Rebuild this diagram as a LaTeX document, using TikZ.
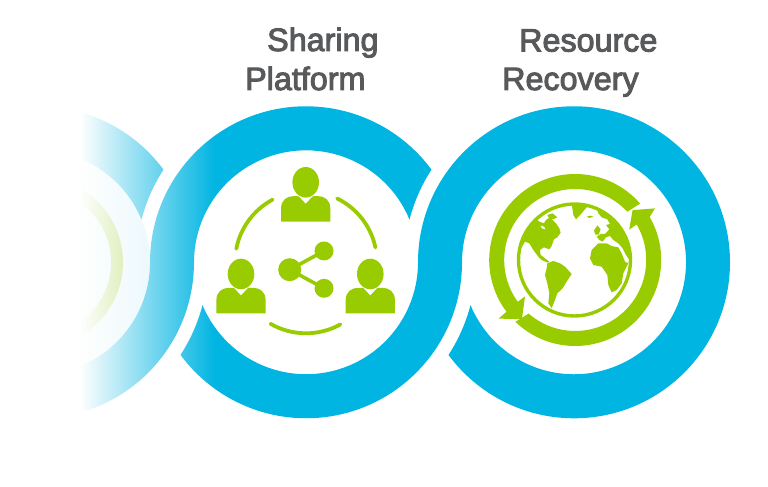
\documentclass[tikz,border=0pt]{standalone}
\usepackage{fontspec}
\usetikzlibrary{fadings}
\newfontfamily\lab[FakeBold=3]{Liberation Sans}
\definecolor{rblue}{HTML}{00B5E2}
\definecolor{rgreen}{HTML}{99CC00}
\definecolor{rgrey}{HTML}{58595B}
\definecolor{rpale}{HTML}{DDF4FB}
\definecolor{rpalegreen}{HTML}{9FD03A}
\tikzfading[name=fadeout,left color=transparent!0,right color=transparent!100]
\tikzset{
  x=1pt,y=1pt,
  lbl/.style={font=\lab\fontsize{32.3}{32.3}\selectfont,text=rgrey,inner sep=0pt,anchor=base west},
  iconarc/.style={draw=rgreen,line width=3.8pt,line cap=round},
  sharelink/.style={draw=rgreen,line width=3.6pt},
}
\newcommand{\person}[2]{%
  \begin{scope}[shift={(#1,#2)}]
    \fill[rgreen] (0,0) ellipse[x radius=13.3,y radius=15.3];
    \fill[rgreen] (-24.6,-39.4) -- (-24.6,-26) .. controls (-24.6,-18) and (-19,-13.8) .. (-12,-13.8)
      -- (-7,-14) -- (0,-21.5) -- (7,-14) -- (12,-13.8) .. controls (19,-13.8) and (24.6,-18) .. (24.6,-26)
      -- (24.6,-39.4) -- cycle;
  \end{scope}}
\begin{document}
\begin{tikzpicture}
\useasboundingbox (0,0) rectangle (768,487);
\def\cy{224.7}
\def\cA{38}\def\cB{306}\def\cC{574}
% left, faded ring
\fill[rpale] (\cA,\cy) circle[radius=112];
\fill[rpalegreen,even odd rule] (\cA,\cy) circle[radius=85] (\cA,\cy) circle[radius=73];
\fill[rblue] ({\cA+156*cos(100)},{\cy+156*sin(100)}) arc[start angle=100,end angle=36.44,radius=156]
  arc[start angle=146.96,end angle=165.42,radius=170]
  arc[start angle=22.47,end angle=100,radius=112] -- cycle;
% S piece: middle top + left bottom
\fill[rblue] (\cB-156,\cy) arc[start angle=180,end angle=36.44,radius=156]
  arc[start angle=146.96,end angle=165.42,radius=170]
  arc[start angle=22.47,end angle=180,radius=112]
  arc[start angle=0,end angle=-100,radius=156]
  -- ({\cA+112*cos(-100)},{\cy+112*sin(-100)})
  arc[start angle=-100,end angle=0,radius=112] -- cycle;
% S piece: right ring + middle bottom
\fill[rblue] (\cC-156,\cy) arc[start angle=180,end angle=-143.56,radius=156]
  arc[start angle=-33.04,end angle=-14.58,radius=170]
  arc[start angle=-157.53,end angle=180,radius=112]
  arc[start angle=0,end angle=-143.56,radius=156]
  arc[start angle=-33.04,end angle=-14.58,radius=170]
  arc[start angle=-157.53,end angle=0,radius=112] -- cycle;
% fade
\fill[white] (0,0) rectangle (81,487);
\fill[white,path fading=fadeout] (80,0) rectangle (215,487);
% people
\person{305.7}{304.7}
\person{241}{213}
\person{370.3}{213}
\draw[iconarc] (\cB,\cy) ++(169:71) arc[start angle=169,end angle=118,radius=71];
\draw[iconarc] (\cB,\cy) ++(64:71) arc[start angle=64,end angle=12,radius=71];
\draw[iconarc] (\cB,\cy) ++(-120:71) arc[start angle=-120,end angle=-61,radius=71];
\coordinate (hub) at (289.7,217.3);
\coordinate (ta) at (324,236);
\coordinate (tb) at (324,198.7);
\draw[sharelink] (hub) -- (ta) (hub) -- (tb);
\fill[rgreen] (hub) circle[radius=11.5] (ta) circle[radius=9.5] (tb) circle[radius=9.5];
% globe arrows
\begin{scope}[shift={(575.2,227)}]
\fill[rgreen] (41:86) arc[start angle=41,end angle=217,radius=86]
  -- (217.4:96.5) -- (228:79.7) -- (216:62) -- (216:71)
  arc[start angle=216,end angle=42.8,radius=71] -- cycle;
\fill[rgreen] (226:86) arc[start angle=226,end angle=390,radius=86]
  -- (392.9:95) -- (401:76) -- (389.4:62) -- (390:71)
  arc[start angle=390,end angle=229,radius=71] -- cycle;
\end{scope}
% globe
\draw[rgreen,line width=3.4pt] (574.5,227) circle[radius=56];
\begin{scope}[shift={(470,327)},x=0.3333pt,y=-0.3333pt]
\clip (313,300) circle[radius=168];
\fill[rgreen] (208,185) -- (222,190) -- (228,180) -- (240,172) -- (248,180) -- (258,190) -- (268,205) -- (272,218) -- (262,232) -- (252,238) -- (245,258) -- (238,268) -- (222,262) -- (210,270) -- (212,285) -- (225,295) -- (238,305) -- (232,308) -- (215,300) -- (205,290) -- (190,270) -- (178,250) -- (165,245) -- (155,262) -- (130,270) -- (130,200) -- (190,170) -- cycle;
\fill[white] (212,197) -- (222,200) -- (226,208) -- (216,205) -- cycle;
\fill[rgreen] (232,165) -- (248,160) -- (262,172) -- (250,178) -- (238,176) -- cycle;
\fill[rgreen] (232,310) -- (250,303) -- (270,310) -- (285,320) -- (305,342) -- (290,365) -- (278,385) -- (262,400) -- (255,420) -- (245,445) -- (235,430) -- (238,400) -- (232,370) -- (225,345) -- (230,325) -- cycle;
\fill[rgreen] (365,270) -- (385,250) -- (410,250) -- (425,258) -- (445,262) -- (455,280) -- (465,305) -- (475,310) -- (460,340) -- (455,370) -- (440,390) -- (425,397) -- (415,375) -- (412,345) -- (395,320) -- (370,315) -- (360,295) -- cycle;
\fill[rgreen] (305,130) -- (360,130) -- (335,160) -- (318,178) -- (310,165) -- cycle;
\fill[rgreen] (350,170) -- (362,167) -- (370,170) -- (358,174) -- cycle;
\fill[rgreen] (375,130) -- (520,200) -- (520,300) -- (478,300) -- (468,285) -- (458,265) -- (445,250) -- (430,240) -- (420,228) -- (408,232) -- (398,245) -- (388,240) -- (380,230) -- (392,222) -- (405,222) -- (418,208) -- (408,195) -- (420,192) -- (412,178) -- (395,172) -- (385,160) -- cycle;
\fill[rgreen] (372,212) -- (382,196) -- (392,208) -- (386,224) -- (376,224) -- cycle;
\end{scope}
% labels
\node[lbl] (s1) at (267,436) {Sharing};
\node[lbl] (s2) at (245,397) {Platform};
\node[lbl] (r1) at (519,435.5) {Resource};
\node[lbl] (r2) at (502,397) {Recovery};
\end{tikzpicture}
\end{document}
